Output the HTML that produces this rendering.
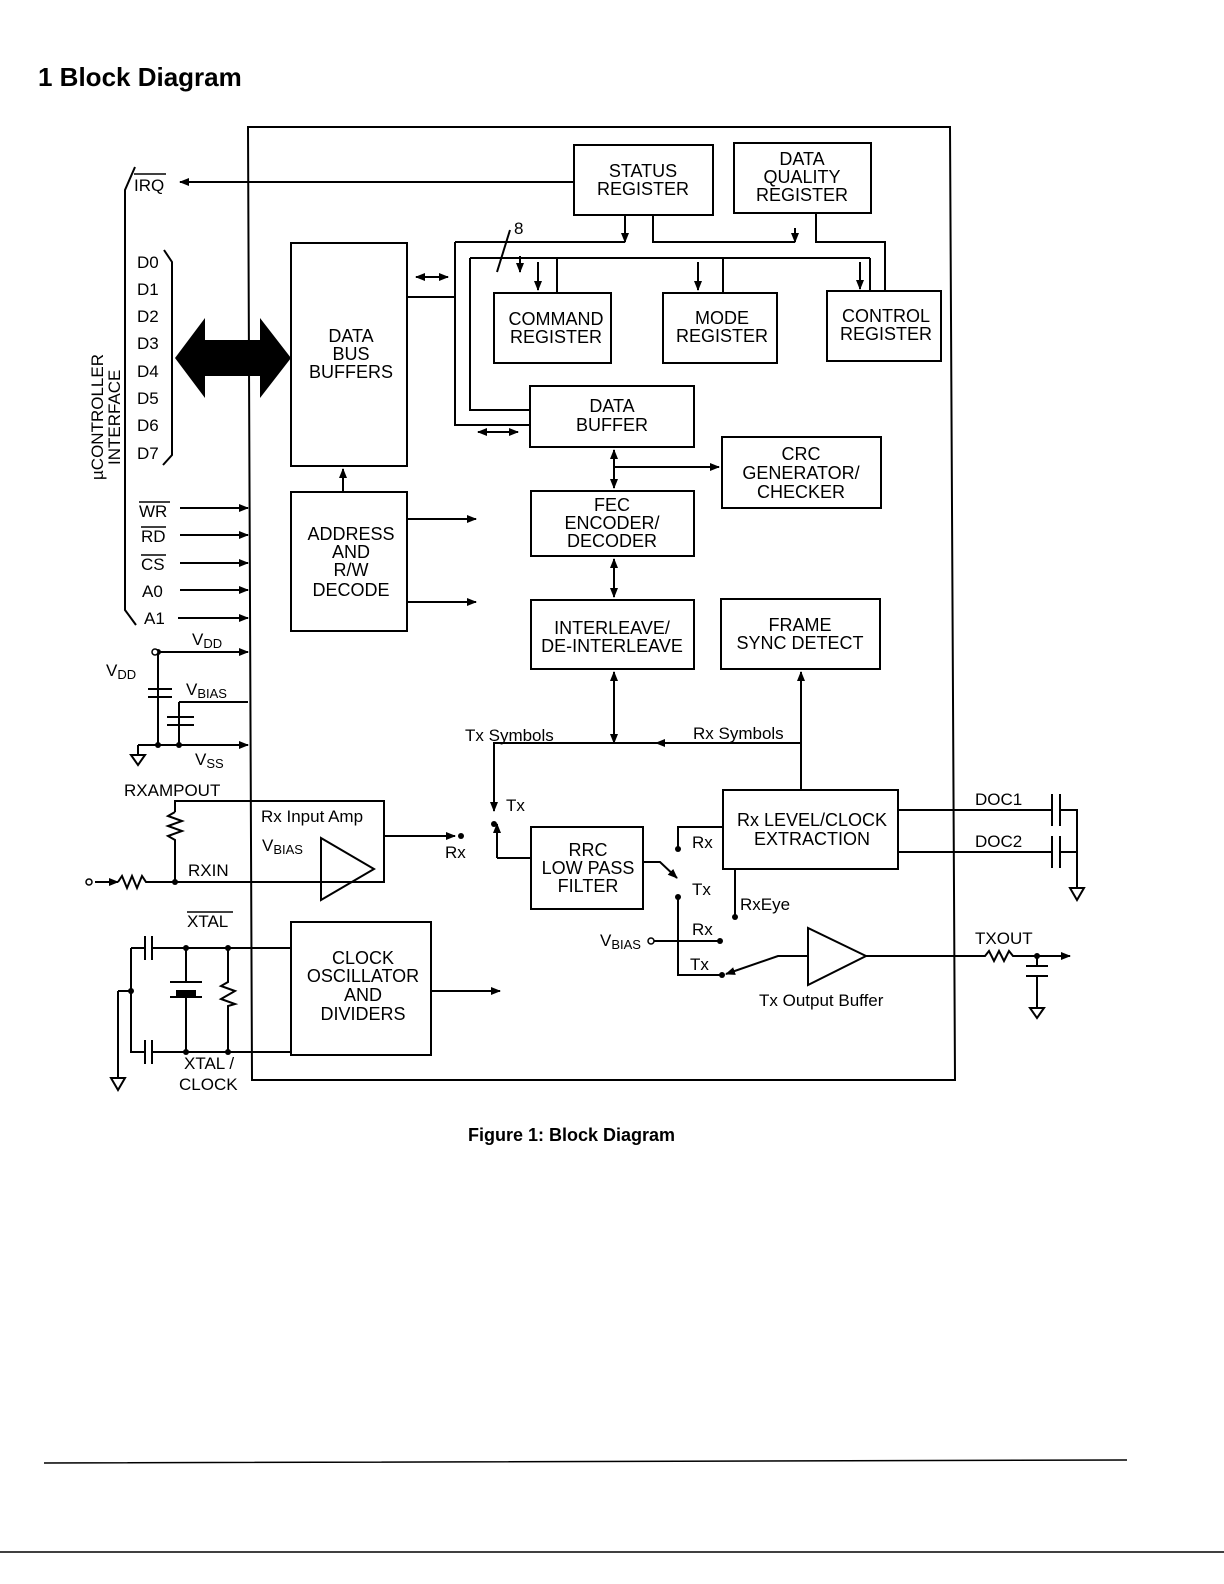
<!DOCTYPE html>
<html><head><meta charset="utf-8"><style>
body{margin:0;background:#fff}
svg{display:block}
text{font-family:"Liberation Sans",sans-serif;fill:#000}
</style></head><body>
<svg width="1224" height="1584" viewBox="0 0 1224 1584" xmlns="http://www.w3.org/2000/svg">
<defs>
<marker id="a" markerWidth="10" markerHeight="8" refX="9" refY="4" orient="auto" markerUnits="userSpaceOnUse"><path d="M0,0 L10,4 L0,8 Z" fill="#000"/></marker>
<marker id="s" markerWidth="10" markerHeight="8" refX="1" refY="4" orient="auto" markerUnits="userSpaceOnUse"><path d="M10,0 L0,4 L10,8 Z" fill="#000"/></marker>
</defs>
<text x="38" y="86" font-size="26" font-weight="bold">1  Block Diagram</text>
<g fill="none" stroke="#000" stroke-width="2">
<path d="M248,127 L950,127 L955,1080 L252,1080 Z"/>
<rect x="574" y="145" width="139" height="70"/>
<rect x="734" y="143" width="137" height="70"/>
<rect x="291" y="243" width="116" height="223"/>
<rect x="494" y="293" width="117" height="70"/>
<rect x="663" y="293" width="114" height="70"/>
<rect x="827" y="291" width="114" height="70"/>
<rect x="530" y="386" width="164" height="61"/>
<rect x="722" y="437" width="159" height="71"/>
<rect x="531" y="491" width="163" height="65"/>
<rect x="291" y="492" width="116" height="139"/>
<rect x="531" y="600" width="163" height="69"/>
<rect x="721" y="599" width="159" height="70"/>
<rect x="723" y="790" width="175" height="79"/>
<rect x="531" y="827" width="112" height="82"/>
<rect x="291" y="922" width="140" height="133"/>
<path d="M320,882 L254,882 M320,882 L384,882 L384,801 L175,801 L175,812"/>
<path d="M321,838 L321,900 L374,869 Z"/>
<path d="M384,836 L455,836" marker-end="url(#a)"/>
<path d="M808,928 L808,985 L866,956 Z"/>
<path d="M574,182 L180,182" marker-end="url(#a)"/>
<path d="M625,215 L625,242" marker-end="url(#a)"/>
<path d="M653,215 L653,242 L795,242" /><path d="M795,228 L795,242" marker-end="url(#a)"/>
<path d="M816,213 L816,242 L885,242 L885,291"/>
<path d="M455,242 L625,242 M455,242 L455,425 L530,425"/>
<path d="M470,258 L870,258 M470,258 L470,410 L530,410"/>
<path d="M520,256 L520,272" marker-end="url(#a)"/><path d="M497,272 L510,230"/>
<path d="M557,258 L557,293 M538,262 L538,290" /><path d="M538,275 L538,290" marker-end="url(#a)"/>
<path d="M723,258 L723,293 M698,262 L698,290"/><path d="M698,275 L698,290" marker-end="url(#a)"/>
<path d="M870,258 L870,291 M860,262 L860,289"/><path d="M860,275 L860,289" marker-end="url(#a)"/>
<path d="M407,297 L455,297"/>
<path d="M416,277 L448,277" marker-start="url(#s)" marker-end="url(#a)"/>
<path d="M478,432 L518,432" marker-start="url(#s)" marker-end="url(#a)"/>
<path d="M614,450 L614,488" marker-start="url(#s)" marker-end="url(#a)"/>
<path d="M614,467 L719,467" marker-end="url(#a)"/>
<path d="M614,559 L614,597" marker-start="url(#s)" marker-end="url(#a)"/>
<path d="M614,672 L614,743" marker-start="url(#s)" marker-end="url(#a)"/>
<path d="M801,790 L801,672" marker-end="url(#a)"/>
<path d="M801,743 L656,743" marker-end="url(#a)"/>
<path d="M656,743 L494,743 L494,811" marker-end="url(#a)"/>
<path d="M497,858 L531,858 M497,858 L497,824" marker-end="url(#a)"/>
<path d="M343,492 L343,469" marker-end="url(#a)"/>
<path d="M407,519 L476,519" marker-end="url(#a)"/>
<path d="M407,602 L476,602" marker-end="url(#a)"/>
<path d="M431,991 L500,991" marker-end="url(#a)"/>
<path d="M643,862 L660,862 L677,878" marker-end="url(#a)"/>
<path d="M678,897 L678,975 L722,975"/>
<path d="M723,827 L678,827 L678,847"/>
<path d="M654,941 L720,941"/>
<path d="M808,956 L778,956 L726,974" marker-end="url(#a)"/>
<path d="M735,869 L735,915"/>
<path d="M898,810 L1052,810 M898,852 L1052,852"/>
<path d="M1052,794 L1052,826 M1060,794 L1060,826 M1052,836 L1052,868 M1060,836 L1060,868"/>
<path d="M1060,810 L1077,810 L1077,888 M1060,852 L1077,852"/>
<path d="M1070,888 L1084,888 L1077,900 Z"/>
<path d="M866,956 L985,956 l4,-5 l5,10 l5,-10 l5,10 l5,-10 l4,5 L1070,956" marker-end="url(#a)"/>
<path d="M1037,956 L1037,966 M1026,966 L1048,966 M1026,976 L1048,976 M1037,976 L1037,1008"/>
<path d="M1030,1008 L1044,1008 L1037,1018 Z"/>
<path d="M135,167 L125,190 L125,610 L136,625"/>
<path d="M164,250 L172,262 L172,455 L163,465"/>
<path d="M178,618 L248,618" marker-end="url(#a)"/>
<path d="M180,590 L248,590" marker-end="url(#a)"/>
<path d="M180,563 L248,563" marker-end="url(#a)"/>
<path d="M180,535 L248,535" marker-end="url(#a)"/>
<path d="M180,508 L248,508" marker-end="url(#a)"/>
<path d="M160,652 L248,652" marker-end="url(#a)"/>
<path d="M158,652 L158,745 M148,689 L172,689 M148,697 L172,697"/>
<path d="M179,702 L248,702 M179,702 L179,745 M167,717 L194,717 M167,725 L194,725"/>
<path d="M138,745 L248,745" marker-end="url(#a)"/>
<path d="M138,745 L138,755 M131,755 L145,755 L138,765 Z"/>
<path d="M175,812 l-7,4 l14,5 l-14,5 l14,5 l-14,5 l7,4 L175,882"/>
<path d="M95,882 L118,882" marker-end="url(#a)"/>
<path d="M118,882 l4,-6 l5,12 l5,-12 l5,12 l5,-12 l4,6 L175,882 L318,882"/>
<path d="M131,948 L145,948 M131,948 L131,1052 L145,1052 M145,936 L145,960 M152,936 L152,960 M145,1040 L145,1064 M152,1040 L152,1064"/>
<path d="M152,948 L291,948 M152,1052 L291,1052"/>
<path d="M186,948 L186,982 M170,982 L202,982 M170,997 L202,997 M186,997 L186,1052"/>
<path d="M228,948 L228,982 l-7,4 l14,5 l-7,4 l-7,4 l14,5 l-7,2 L228,1052"/>
<path d="M118,991 L131,991 M118,991 L118,1078"/>
<path d="M111,1078 L125,1078 L118,1090 Z"/>
<path d="M44,1463 L1127,1460 M0,1552 L1224,1552" stroke-width="1.5"/>
</g>
<rect x="176" y="990" width="20" height="6" fill="#000"/>
<path d="M175,358 L205,318 L205,340 L260,340 L260,318 L291,358 L260,398 L260,376 L205,376 L205,398 Z" fill="#000"/>
<g fill="#000">
<circle cx="158" cy="652" r="3"/><circle cx="158" cy="745" r="3"/><circle cx="179" cy="745" r="3"/>
<circle cx="175" cy="882" r="3"/><circle cx="186" cy="948" r="3"/><circle cx="228" cy="948" r="3"/><circle cx="186" cy="1052" r="3"/><circle cx="228" cy="1052" r="3"/><circle cx="131" cy="991" r="3"/>
<circle cx="461" cy="836" r="3"/><circle cx="494" cy="824" r="3"/><circle cx="678" cy="849" r="3"/><circle cx="678" cy="897" r="3"/><circle cx="720" cy="941" r="3"/><circle cx="722" cy="975" r="3"/><circle cx="735" cy="917" r="3"/><circle cx="1037" cy="956" r="3"/>
</g>
<g fill="#fff" stroke="#000" stroke-width="1.5"><circle cx="155" cy="652" r="3"/><circle cx="89" cy="882" r="3"/><circle cx="651" cy="941" r="3"/></g>
<g font-size="18" text-anchor="middle">
<text x="643" y="177">STATUS</text><text x="643" y="195">REGISTER</text>
<text x="802" y="165">DATA</text><text x="802" y="183">QUALITY</text><text x="802" y="201">REGISTER</text>
<text x="351" y="342">DATA</text><text x="351" y="360">BUS</text><text x="351" y="378">BUFFERS</text>
<text x="556" y="325">COMMAND</text><text x="556" y="343">REGISTER</text>
<text x="722" y="324">MODE</text><text x="722" y="342">REGISTER</text>
<text x="886" y="322">CONTROL</text><text x="886" y="340">REGISTER</text>
<text x="612" y="412">DATA</text><text x="612" y="431">BUFFER</text>
<text x="801" y="460">CRC</text><text x="801" y="479">GENERATOR/</text><text x="801" y="498">CHECKER</text>
<text x="612" y="511">FEC</text><text x="612" y="529">ENCODER/</text><text x="612" y="547">DECODER</text>
<text x="351" y="540">ADDRESS</text><text x="351" y="558">AND</text><text x="351" y="576">R/W</text><text x="351" y="596">DECODE</text>
<text x="612" y="634">INTERLEAVE/</text><text x="612" y="652">DE-INTERLEAVE</text>
<text x="800" y="631">FRAME</text><text x="800" y="649">SYNC DETECT</text>
<text x="812" y="826">Rx LEVEL/CLOCK</text><text x="812" y="845">EXTRACTION</text>
<text x="588" y="856">RRC</text><text x="588" y="874">LOW PASS</text><text x="588" y="892">FILTER</text>
<text x="363" y="964">CLOCK</text><text x="363" y="982">OSCILLATOR</text><text x="363" y="1001">AND</text><text x="363" y="1020">DIVIDERS</text>
</g>
<g font-size="17">
<text x="134" y="191">IRQ</text><path d="M134,174 L166,174" stroke="#000" stroke-width="1.5"/>
<text x="137" y="268">D0</text><text x="137" y="295">D1</text><text x="137" y="322">D2</text><text x="137" y="349">D3</text><text x="137" y="377">D4</text><text x="137" y="404">D5</text><text x="137" y="431">D6</text><text x="137" y="459">D7</text>
<text x="139" y="517">WR</text><text x="141" y="542">RD</text><text x="141" y="570">CS</text><text x="142" y="597">A0</text><text x="144" y="624">A1</text>
<path d="M139,502 L170,502 M141,527 L166,527 M141,555 L166,555 M187,912 L233,912" stroke="#000" stroke-width="1.5"/>
<text x="192" y="645">V<tspan font-size="13" dy="3">DD</tspan></text>
<text x="106" y="676">V<tspan font-size="13" dy="3">DD</tspan></text>
<text x="186" y="695">V<tspan font-size="13" dy="3">BIAS</tspan></text>
<text x="195" y="765">V<tspan font-size="13" dy="3">SS</tspan></text>
<text x="124" y="796">RXAMPOUT</text>
<text x="261" y="822">Rx Input Amp</text>
<text x="262" y="851">V<tspan font-size="13" dy="3">BIAS</tspan></text>
<text x="188" y="876">RXIN</text>
<text x="445" y="858">Rx</text>
<text x="187" y="927">XTAL</text>
<text x="184" y="1069">XTAL /</text><text x="179" y="1090">CLOCK</text>
<text x="465" y="741">Tx Symbols</text><text x="693" y="739">Rx Symbols</text>
<text x="506" y="811">Tx</text>
<text x="692" y="848">Rx</text><text x="692" y="895">Tx</text><text x="740" y="910">RxEye</text>
<text x="692" y="935">Rx</text><text x="690" y="970">Tx</text>
<text x="600" y="946">V<tspan font-size="13" dy="3">BIAS</tspan></text>
<text x="759" y="1006">Tx Output Buffer</text>
<text x="975" y="805">DOC1</text><text x="975" y="847">DOC2</text><text x="975" y="944">TXOUT</text>
<text x="514" y="234">8</text>
<text transform="translate(103,480) rotate(-90)">µCONTROLLER</text>
<text transform="translate(120,465) rotate(-90)">INTERFACE</text>
</g>
<text x="468" y="1141" font-size="18" font-weight="bold">Figure 1:  Block Diagram</text>
</svg>
</body></html>
